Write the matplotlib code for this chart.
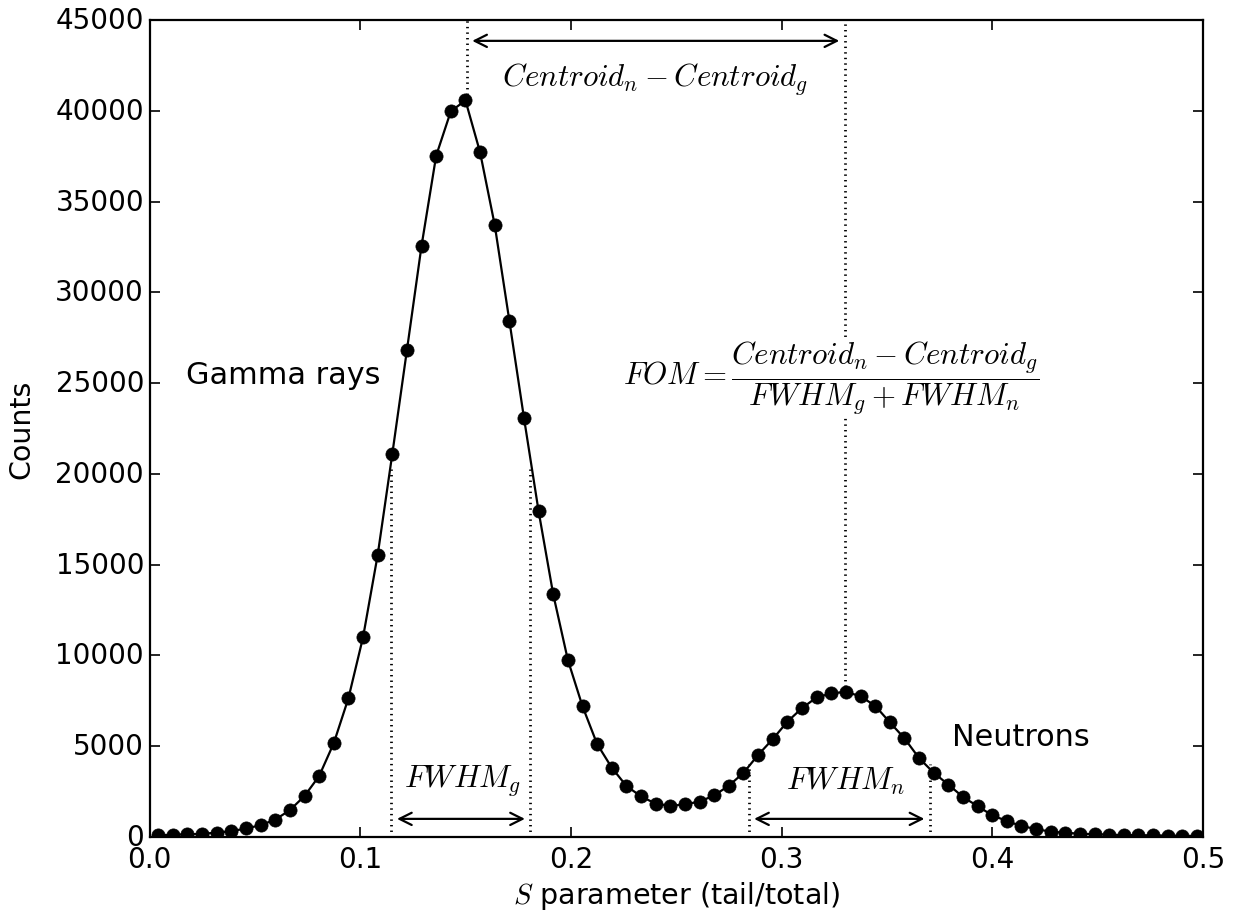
import matplotlib.pyplot as plt
import numpy as np

plt.style.use('classic')

# Гистограмма S-параметра (отсчёты по бинам)
counts = [100, 130, 150, 180, 240, 320, 470, 650, 960, 1480,
          2260, 3360, 5170, 7640, 11000, 15530, 21100, 26820, 32570, 37530,
          39970, 40570, 37710, 33710, 28440, 23080, 17940, 13360, 9750, 7200,
          5120, 3820, 2810, 2240, 1835, 1710, 1800, 1950, 2290, 2830,
          3530, 4520, 5390, 6350, 7100, 7690, 7910, 8000, 7750, 7230,
          6320, 5440, 4350, 3540, 2890, 2210, 1700, 1200, 880, 605,
          440, 290, 240, 180, 160, 130, 110, 100, 90, 80,
          70, 60]
s_first = 0.0041
s_step = 0.5 / 72

# Центроиды и полуширины
centroid_g, centroid_n = 0.1505, 0.330
peak_g, peak_n = 40570, 8000
fwhm_g = (0.1148, 0.1808)
fwhm_n = (0.2843, 0.3704)

s = s_first + s_step * np.arange(len(counts))

fig = plt.figure(figsize=(12.35, 9.2), dpi=100, facecolor='white')
ax = fig.add_axes([0.1211, 0.0891, 0.8530, 0.8881])

ax.plot(s, counts, '-o', color='black', lw=1.6, markersize=9.5,
        markeredgecolor='black')

# Вертикальные пунктиры
dot = dict(color='black', linestyle=':', lw=2.0)
ax.plot([centroid_g, centroid_g], [peak_g, 45000], **dot)
ax.plot([centroid_n, centroid_n], [peak_n, 45000], **dot)
for xv in fwhm_g:
    ax.plot([xv, xv], [0, peak_g / 2], **dot)
for xv in fwhm_n:
    ax.plot([xv, xv], [0, peak_n / 2], **dot)

# Стрелки
arr = dict(arrowstyle='<->', color='black', lw=1.6, mutation_scale=22,
           shrinkA=4, shrinkB=4)
ax.annotate('', xy=(centroid_n, 43850), xytext=(centroid_g, 43850),
            arrowprops=arr)
ax.annotate('', xy=(fwhm_g[1], 1000), xytext=(fwhm_g[0], 1000),
            arrowprops=arr)
ax.annotate('', xy=(fwhm_n[1], 1000), xytext=(fwhm_n[0], 1000),
            arrowprops=arr)

# Подписи
ax.text(0.0173, 25500, 'Gamma rays', fontsize=21.8, va='center', ha='left')
ax.text(0.381, 5510, 'Neutrons', fontsize=21.8, va='center', ha='left')
ax.text(0.240, 41750, r'$Centroid_n - Centroid_g$', fontsize=22.3,
        ha='center', va='center')
ax.text(0.1487, 3100, r'$FWHM_g$', fontsize=22.3, ha='center', va='center')
ax.text(0.3306, 3100, r'$FWHM_n$', fontsize=22.3, ha='center', va='center')
ax.text(0.3234, 25340,
        r'$FOM = \dfrac{Centroid_n - Centroid_g}{FWHM_g + FWHM_n}$',
        fontsize=22.3, ha='center', va='center',
        bbox=dict(facecolor='white', edgecolor='none', pad=0))

ax.set_xlim(0, 0.5)
ax.set_ylim(0, 45000)
ax.set_xticks(np.arange(0, 0.51, 0.1))
ax.set_yticks(np.arange(0, 45001, 5000))
ax.tick_params(labelsize=20, width=1.2, length=7)
ax.tick_params(axis='x', pad=6)
ax.set_xlabel(r'$S$ parameter (tail/total)', fontsize=20.5, labelpad=4)
ax.set_ylabel('Counts', fontsize=20.5, labelpad=14)
for sp in ax.spines.values():
    sp.set_linewidth(1.6)

fig.savefig('out.png', dpi=100, facecolor='white')
